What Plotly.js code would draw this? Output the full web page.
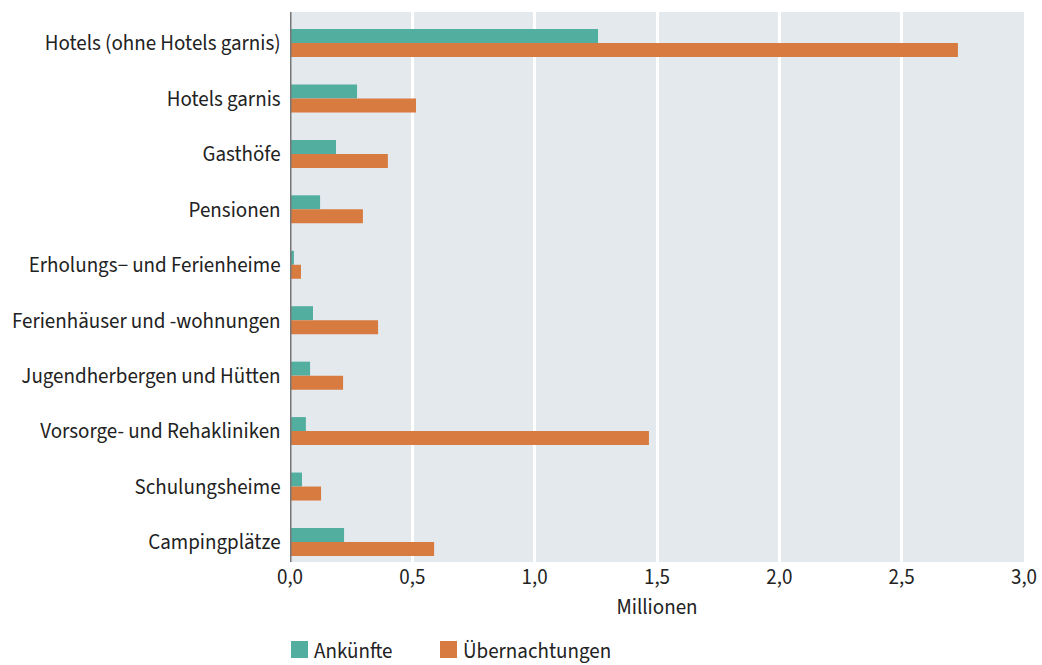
<!DOCTYPE html>
<html>
<head>
<meta charset="utf-8">
<script src="https://cdn.plot.ly/plotly-3.0.1.min.js"></script>
<style>html,body{margin:0;padding:0;background:#fff;}#chart{width:1042px;height:665px;}</style>
</head>
<body>
<div id="chart"></div>
<script>
const categories = [
  "Hotels (ohne Hotels garnis)",
  "Hotels garnis",
  "Gasthöfe",
  "Pensionen",
  "Erholungs− und Ferienheime",
  "Ferienhäuser und -wohnungen",
  "Jugendherbergen und Hütten",
  "Vorsorge- und Rehakliniken",
  "Schulungsheime",
  "Campingplätze"
];
const ankuenfte = [1.259, 0.274, 0.188, 0.123, 0.016, 0.094, 0.082, 0.065, 0.049, 0.221];
const uebernachtungen = [2.730, 0.515, 0.400, 0.298, 0.045, 0.360, 0.217, 1.467, 0.127, 0.589];
const tickVals = [0, 0.5, 1.0, 1.5, 2.0, 2.5, 3.0];
const tickText = ["0,0", "0,5", "1,0", "1,5", "2,0", "2,5", "3,0"];

const font = '"Source Sans Pro", "Source Sans 3", Lato, "Noto Sans", sans-serif';

const data = [
  {type: 'bar', orientation: 'h', name: 'Ankünfte', y: categories, x: ankuenfte,
   marker: {color: '#52ae9f'}, hoverinfo: 'x+y', legend: 'legend'},
  {type: 'bar', orientation: 'h', name: 'Übernachtungen', y: categories, x: uebernachtungen,
   marker: {color: '#d87b40'}, hoverinfo: 'x+y', legend: 'legend2'}
];

const legendBase = {orientation: 'h', xanchor: 'left', y: -0.1225, yanchor: 'top',
                    font: {size: 21, color: '#222'}, bgcolor: 'rgba(0,0,0,0)'};

const layout = {
  width: 1042, height: 665,
  margin: {l: 290, r: 18, t: 12, b: 103, autoexpand: false},
  paper_bgcolor: '#ffffff',
  plot_bgcolor: '#e4e9ee',
  font: {family: font, size: 21, color: '#222'},
  barmode: 'group',
  bargap: 0.495,
  bargroupgap: 0,
  showlegend: true,
  legend: Object.assign({}, legendBase, {x: -0.0218}),
  legend2: Object.assign({}, legendBase, {x: 0.1812}),
  xaxis: {
    range: [0, 3.0], tickvals: tickVals, ticktext: tickText,
    showgrid: true, gridcolor: '#ffffff', gridwidth: 3,
    zeroline: false, showline: false,
    ticks: '',
    tickfont: {size: 21, color: '#222'},
    title: {text: 'Millionen', font: {size: 21, color: '#222'}, standoff: 0},
    automargin: false,
    fixedrange: true
  },
  yaxis: {
    type: 'category',
    range: [9.361, -0.559],
    showgrid: false, zeroline: false, showline: false, ticks: '',
    ticksuffix: '  ',
    tickfont: {size: 21, color: '#222'},
    automargin: false,
    fixedrange: true
  },
  shapes: [
    {type: 'line', xref: 'x', yref: 'paper', x0: 0, x1: 0, y0: 0, y1: 1,
     line: {color: '#777777', width: 3}}
  ]
};

function fixLegend() {
  document.querySelectorAll('.legendpoints path').forEach(p => {
    p.setAttribute('d', 'M14,8.5H-3V-8.5H14Z');
  });
}

Plotly.newPlot('chart', data, layout, {displayModeBar: false}).then(gd => {
  fixLegend();
  gd.on('plotly_afterplot', fixLegend);
});
</script>
</body>
</html>
